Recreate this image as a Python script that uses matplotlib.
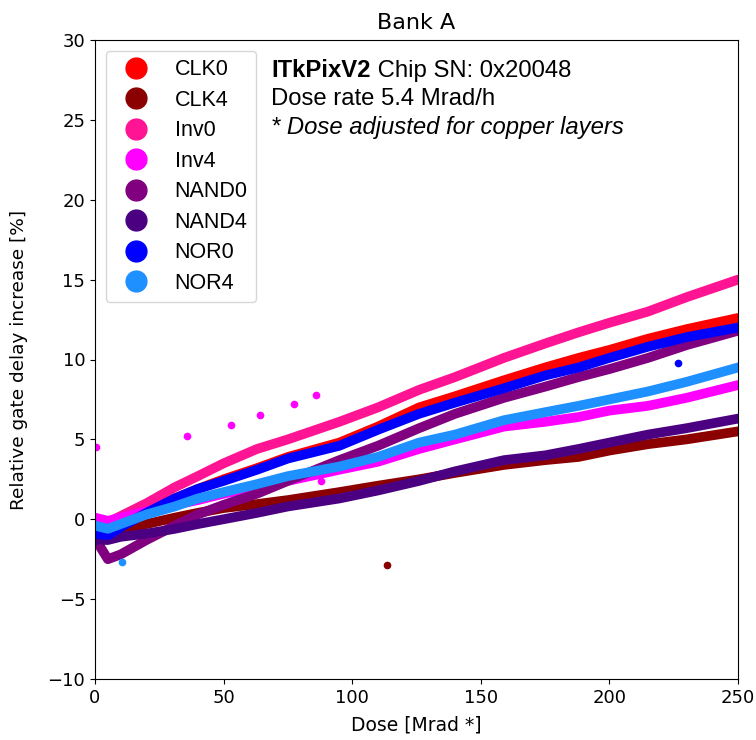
import matplotlib
matplotlib.use("Agg")
import matplotlib.pyplot as plt
from matplotlib.lines import Line2D

# dose points [Mrad *]
dose = [0, 5, 10, 20, 31, 40, 50, 63, 75, 95, 110, 126, 140, 159, 175, 188, 200, 215, 230, 250]

labels = ["CLK0", "CLK4", "Inv0", "Inv4", "NAND0", "NAND4", "NOR0", "NOR4"]
colors = ["red", "darkred", "deeppink", "magenta", "purple", "indigo", "blue", "dodgerblue"]

clk0 = [-0.5, -0.6, -0.3, 0.5, 1.3, 1.9, 2.5, 3.2, 3.9, 4.8, 5.8, 7.0, 7.7, 8.7, 9.5, 10.1, 10.6, 11.3, 11.9, 12.6]
clk4 = [-0.8, -0.8, -0.7, -0.3, 0.1, 0.4, 0.7, 0.95, 1.2, 1.7, 2.1, 2.5, 2.9, 3.4, 3.7, 3.9, 4.3, 4.7, 5.0, 5.5]
inv0 = [0.0, -0.2, 0.2, 1.0, 2.0, 2.7, 3.5, 4.4, 5.0, 6.1, 7.0, 8.1, 8.9, 10.1, 11.0, 11.7, 12.3, 13.0, 13.9, 15.0]
inv4 = [0.1, -0.1, 0.1, 0.5, 0.9, 1.2, 1.6, 2.0, 2.4, 3.1, 3.6, 4.4, 5.0, 5.8, 6.1, 6.4, 6.8, 7.1, 7.6, 8.4]
nand0 = [-1.2, -2.5, -2.2, -1.3, -0.4, 0.3, 0.9, 1.6, 2.4, 3.7, 4.6, 5.7, 6.6, 7.6, 8.3, 8.9, 9.4, 10.1, 10.9, 11.8]
nand4 = [-1.3, -1.3, -1.1, -0.9, -0.6, -0.3, 0.0, 0.4, 0.8, 1.3, 1.8, 2.4, 3.0, 3.7, 4.0, 4.4, 4.8, 5.3, 5.7, 6.3]
nor0 = [-0.9, -1.0, -0.5, 0.4, 1.3, 1.9, 2.4, 3.1, 3.8, 4.6, 5.6, 6.6, 7.3, 8.2, 9.0, 9.5, 10.1, 10.8, 11.4, 12.0]
nor4 = [-0.4, -0.6, -0.3, 0.3, 0.8, 1.3, 1.7, 2.2, 2.7, 3.3, 3.9, 4.8, 5.3, 6.2, 6.7, 7.1, 7.5, 8.0, 8.6, 9.5]
series = [clk0, clk4, inv0, inv4, nand0, nand4, nor0, nor4]

# isolated points
inv4_out_x = [0.5, 35.8, 52.9, 64.2, 77.4, 85.9, 87.9]
inv4_out_y = [4.5, 5.2, 5.9, 6.5, 7.2, 7.8, 2.4]
clk4_out_x = [113.5]
clk4_out_y = [-2.87]
nor0_out_x = [226.7]
nor0_out_y = [9.8]
nor4_out_x = [10.5]
nor4_out_y = [-2.7]

plt.rcParams["font.family"] = ["DejaVu Sans"]
plt.rcParams["font.size"] = 13

fig = plt.figure(figsize=(7.56, 7.4), dpi=100)
ax = fig.add_axes([95 / 756, 61 / 740, 643 / 756, 639 / 740])

for vals, c in zip(series, colors):
    ax.plot(dose, vals, color=c, lw=7, solid_capstyle="round", solid_joinstyle="round")

ax.plot(inv4_out_x, inv4_out_y, "o", color="magenta", ms=4.5)
ax.plot(clk4_out_x, clk4_out_y, "o", color="darkred", ms=4.5)
ax.plot(nor0_out_x, nor0_out_y, "o", color="blue", ms=4.5)
ax.plot(nor4_out_x, nor4_out_y, "o", color="dodgerblue", ms=4.5)

ax.set_xlim(0, 250)
ax.set_ylim(-10, 30)
ax.set_xticks([0, 50, 100, 150, 200, 250])
ax.set_yticks(range(-10, 31, 5))
ax.set_xlabel("Dose [Mrad *]", fontsize=13.5, labelpad=6)
ax.set_ylabel("Relative gate delay increase [%]", fontsize=13.3, labelpad=14)
ax.set_title("Bank A", fontsize=16, pad=8)

handles = [Line2D([], [], marker="o", ls="", color=c, ms=15) for c in colors]
ax.legend(handles, labels, loc="upper left", labelspacing=0.44,
          prop={"family": "Liberation Sans", "size": 15.5})

tfont = {"family": "Liberation Sans", "size": 17.2}
t1 = ax.text(0.274, 0.9515, "ITkPixV2", transform=ax.transAxes, va="center", ha="left",
             fontweight="bold", **tfont)
ax.annotate(" Chip SN: 0x20048", xy=(1, 0), xycoords=t1, va="bottom", ha="left", **tfont)
ax.text(0.274, 0.9077, "Dose rate 5.4 Mrad/h", transform=ax.transAxes, va="center", ha="left", **tfont)
ax.text(0.274, 0.8623, "* Dose adjusted for copper layers", transform=ax.transAxes, va="center",
        ha="left", style="italic", **tfont)

fig.savefig("out.png", dpi=100)
